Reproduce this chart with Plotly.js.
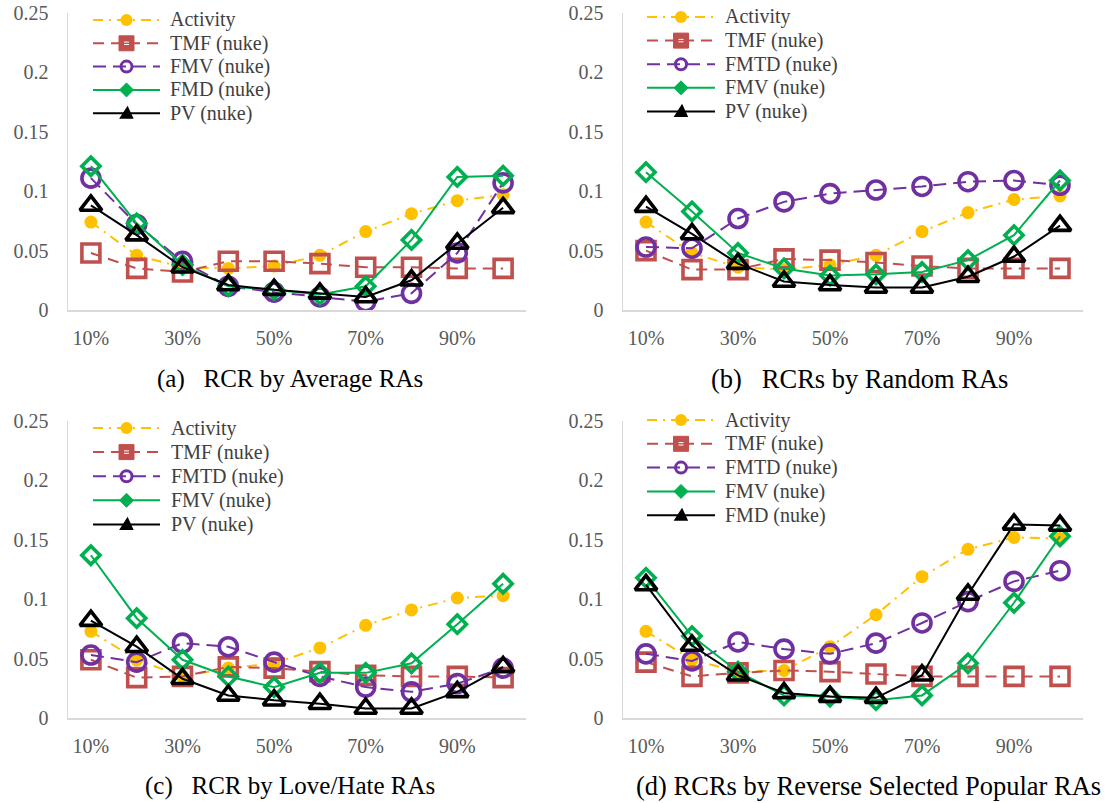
<!DOCTYPE html>
<html>
<head>
<meta charset="utf-8">
<script src="https://cdn.plot.ly/plotly-3.0.1.min.js"></script>
<style>
html,body{margin:0;padding:0;background:#fff;}
#chart{width:1110px;height:803px;}
</style>
</head>
<body>
<div id="chart"></div>
<script>
// ---- data ----
const categories = ['10%','20%','30%','40%','50%','60%','70%','80%','90%','100%'];
const tickCategories = ['10%','30%','50%','70%','90%'];
const yTicks = [0, 0.05, 0.1, 0.15, 0.2, 0.25];
const yTickText = ['0', '0.05', '0.1', '0.15', '0.2', '0.25'];

// (a) RCR by Average RAs
const a_activity = [0.074, 0.046, 0.036, 0.035, 0.037, 0.046, 0.066, 0.081, 0.092, 0.097];
const a_tmf      = [0.048, 0.035, 0.032, 0.041, 0.041, 0.039, 0.036, 0.036, 0.035, 0.035];
const a_fmv      = [0.111, 0.072, 0.041, 0.020, 0.015, 0.011, 0.007, 0.014, 0.048, 0.107];
const a_fmd      = [0.121, 0.073, 0.038, 0.020, 0.017, 0.013, 0.020, 0.059, 0.112, 0.113];
const a_pv       = [0.088, 0.063, 0.036, 0.021, 0.017, 0.014, 0.011, 0.025, 0.056, 0.086];

// (b) RCRs by Random RAs
const b_activity = [0.074, 0.048, 0.036, 0.034, 0.038, 0.046, 0.066, 0.082, 0.093, 0.096];
const b_tmf      = [0.050, 0.034, 0.034, 0.043, 0.042, 0.040, 0.037, 0.035, 0.035, 0.035];
const b_fmtd     = [0.053, 0.052, 0.077, 0.091, 0.098, 0.101, 0.104, 0.108, 0.109, 0.105];
const b_fmv      = [0.116, 0.083, 0.048, 0.035, 0.029, 0.030, 0.032, 0.042, 0.063, 0.109];
const b_pv       = [0.087, 0.064, 0.039, 0.024, 0.021, 0.019, 0.019, 0.028, 0.045, 0.071];

// (c) RCR by Love/Hate RAs
const c_activity = [0.073, 0.049, 0.035, 0.042, 0.046, 0.059, 0.078, 0.091, 0.101, 0.103];
const c_tmf      = [0.049, 0.034, 0.035, 0.043, 0.042, 0.039, 0.036, 0.035, 0.035, 0.034];
const c_fmtd     = [0.053, 0.047, 0.063, 0.060, 0.047, 0.035, 0.026, 0.022, 0.029, 0.042];
const c_fmv      = [0.137, 0.084, 0.049, 0.035, 0.026, 0.038, 0.038, 0.046, 0.079, 0.113];
const c_pv       = [0.082, 0.060, 0.033, 0.019, 0.015, 0.012, 0.008, 0.008, 0.022, 0.043];

// (d) RCRs by Reverse Selected Popular RAs
const d_activity = [0.073, 0.049, 0.039, 0.040, 0.060, 0.087, 0.119, 0.142, 0.152, 0.151];
const d_tmf      = [0.047, 0.035, 0.038, 0.040, 0.039, 0.037, 0.035, 0.035, 0.035, 0.035];
const d_fmtd     = [0.054, 0.048, 0.064, 0.058, 0.054, 0.063, 0.080, 0.098, 0.115, 0.124];
const d_fmv      = [0.118, 0.069, 0.039, 0.019, 0.018, 0.015, 0.019, 0.046, 0.097, 0.153];
const d_fmd      = [0.112, 0.061, 0.036, 0.021, 0.018, 0.017, 0.036, 0.104, 0.163, 0.162];

const legendA = ['Activity', 'TMF (nuke)', 'FMV (nuke)', 'FMD (nuke)', 'PV (nuke)'];
const legendB = ['Activity', 'TMF (nuke)', 'FMTD (nuke)', 'FMV (nuke)', 'PV (nuke)'];
const legendC = ['Activity', 'TMF (nuke)', 'FMTD (nuke)', 'FMV (nuke)', 'PV (nuke)'];
const legendD = ['Activity', 'TMF (nuke)', 'FMTD (nuke)', 'FMV (nuke)', 'FMD (nuke)'];

const panelTitles = [
  '(a)\u00a0\u00a0\u00a0RCR by Average RAs',
  '(b)\u00a0\u00a0\u00a0RCRs by Random RAs',
  '(c)\u00a0\u00a0\u00a0RCR by Love/Hate RAs',
  '(d) RCRs by Reverse Selected Popular RAs'
];

// ---- styles ----
const FONT = "'Liberation Serif', 'Times New Roman', Times, serif";
const styleOrder = ['activity', 'tmf', 'purple', 'green', 'black'];
const styles = {
  activity: {color:'#FFC000', dash:'10px,6px,2px,6px', symbol:'circle', size:13, open:false},
  tmf:      {color:'#C0504D', dash:'11px,7px', symbol:'square-open', size:18, open:true},
  purple:   {color:'#7030A0', dash:'13px,7px', symbol:'circle-open', size:18, open:true},
  green:    {color:'#00B050', dash:'solid', symbol:'diamond-open', size:14, open:true},
  black:    {color:'#000000', dash:'solid', symbol:'triangle-up-open', size:19, open:true}
};

function trace(name, y, st, ax){
  const s = styles[st];
  return {
    type:'scatter', mode:'lines+markers', name:name,
    x: categories, y: y,
    xaxis: 'x' + ax, yaxis: 'y' + ax,
    showlegend: false,
    line: {color: s.color, width: 2, dash: s.dash},
    marker: s.open
      ? {symbol: s.symbol, size: s.size, color: s.color, line: {color: s.color, width: 3.6}}
      : {symbol: s.symbol, size: s.size, color: s.color, line: {width: 0}},
    hoverinfo: 'skip'
  };
}

const panelSeries = [
  {ax:'',  names: legendA, values: [a_activity, a_tmf, a_fmv, a_fmd, a_pv]},
  {ax:'2', names: legendB, values: [b_activity, b_tmf, b_fmtd, b_fmv, b_pv]},
  {ax:'3', names: legendC, values: [c_activity, c_tmf, c_fmtd, c_fmv, c_pv]},
  {ax:'4', names: legendD, values: [d_activity, d_tmf, d_fmtd, d_fmv, d_fmd]}
];

const data = [];
panelSeries.forEach(ps => {
  ps.values.forEach((vals, k) => data.push(trace(ps.names[k], vals, styleOrder[k], ps.ax)));
});

// ---- layout ----
const W = 1110, H = 803;
const fx = p => p / W;
const fy = p => 1 - p / H;

const panels = [
  {x0:68,  x1:526,  yTop:13,  yBot:310},
  {x0:623, x1:1083, yTop:13,  yBot:310},
  {x0:68,  x1:526,  yTop:421, yBot:718},
  {x0:623, x1:1083, yTop:421, yBot:718}
];

const layout = {
  width: W, height: H,
  margin: {l:0, r:0, t:0, b:0},
  paper_bgcolor:'#fff', plot_bgcolor:'rgba(0,0,0,0)',
  font: {family: FONT, size: 20, color:'#595959'},
  showlegend: false,
  annotations: [],
  shapes: [],
  hovermode: false
};

panels.forEach((p, i) => {
  const sfx = i === 0 ? '' : String(i + 1);
  layout['xaxis' + sfx] = {
    domain: [fx(p.x0), fx(p.x1)],
    anchor: 'y' + sfx,
    type: 'category',
    range: [-0.5, 9.5],
    tickmode: 'array', tickvals: tickCategories, ticktext: tickCategories,
    showgrid: false, zeroline: false,
    showline: true, linecolor: '#D9D9D9', linewidth: 1.5,
    ticks: '', ticklabelstandoff: 9,
    tickfont: {family: FONT, size: 20, color: '#595959'},
    fixedrange: true
  };
  layout['yaxis' + sfx] = {
    domain: [fy(p.yBot), fy(p.yTop)],
    anchor: 'x' + sfx,
    range: [0, 0.25],
    tickmode: 'array', tickvals: yTicks, ticktext: yTickText,
    showgrid: false, zeroline: false,
    showline: true, linecolor: '#D9D9D9', linewidth: 1.5,
    ticks: '', ticklabelstandoff: 14,
    tickfont: {family: FONT, size: 20, color: '#595959'},
    fixedrange: true
  };
});

// ---- hand-placed legends (pixel geometry) ----
const legendGeom = [
  {lx0: 93,  lx1: 160, tx: 168, y0: 20,  dy: 23.3},
  {lx0: 647, lx1: 715, tx: 723, y0: 17,  dy: 23.6},
  {lx0: 93,  lx1: 160, tx: 169, y0: 428, dy: 24.1},
  {lx0: 647, lx1: 715, tx: 723, y0: 420, dy: 23.8}
];

function addLegendMarker(st, cx, cy){
  const s = styles[st];
  const c = s.color;
  if (st === 'activity') {
    const r = 6;
    layout.shapes.push({type:'circle', xref:'paper', yref:'paper',
      x0: fx(cx - r), x1: fx(cx + r), y0: fy(cy + r), y1: fy(cy - r),
      fillcolor: c, line: {width: 0}});
  } else if (st === 'tmf') {
    const r = 7.5;
    layout.shapes.push({type:'rect', xref:'paper', yref:'paper',
      x0: fx(cx - r), x1: fx(cx + r), y0: fy(cy + r), y1: fy(cy - r),
      fillcolor: c, line: {color: c, width: 1}});
    layout.shapes.push({type:'line', xref:'paper', yref:'paper',
      x0: fx(cx - 2.5), x1: fx(cx + 2.5), y0: fy(cy - 1.2), y1: fy(cy - 1.2),
      line: {color: '#ffffff', width: 1}});
    layout.shapes.push({type:'line', xref:'paper', yref:'paper',
      x0: fx(cx - 2.5), x1: fx(cx + 2.5), y0: fy(cy + 1.2), y1: fy(cy + 1.2),
      line: {color: '#ffffff', width: 1}});
  } else if (st === 'purple') {
    const r = 5.5;
    layout.shapes.push({type:'circle', xref:'paper', yref:'paper',
      x0: fx(cx - r), x1: fx(cx + r), y0: fy(cy + r), y1: fy(cy - r),
      fillcolor: 'rgba(0,0,0,0)', line: {color: c, width: 3}});
  } else if (st === 'green') {
    const r = 7;
    layout.shapes.push({type:'path', xref:'paper', yref:'paper',
      path: 'M' + fx(cx) + ',' + fy(cy - r) + ' L' + fx(cx + r) + ',' + fy(cy) +
            ' L' + fx(cx) + ',' + fy(cy + r) + ' L' + fx(cx - r) + ',' + fy(cy) + ' Z',
      fillcolor: c, line: {color: c, width: 1}});
  } else {
    const r = 6;
    layout.shapes.push({type:'path', xref:'paper', yref:'paper',
      path: 'M' + fx(cx - r) + ',' + fy(cy + r * 0.8) + ' L' + fx(cx + r) + ',' + fy(cy + r * 0.8) +
            ' L' + fx(cx + 1) + ',' + fy(cy - r) + ' Z',
      fillcolor: c, line: {color: c, width: 1.5}});
  }
}

panelSeries.forEach((ps, i) => {
  const g = legendGeom[i];
  ps.names.forEach((name, k) => {
    const st = styleOrder[k];
    const s = styles[st];
    const cy = g.y0 + k * g.dy;
    layout.shapes.push({type:'line', xref:'paper', yref:'paper',
      x0: fx(g.lx0), x1: fx(g.lx1), y0: fy(cy), y1: fy(cy),
      line: {color: s.color, width: 2, dash: s.dash}});
    addLegendMarker(st, (g.lx0 + g.lx1) / 2, cy);
    layout.annotations.push({
      xref:'paper', yref:'paper', x: fx(g.tx), y: fy(cy),
      xanchor:'left', yanchor:'middle', showarrow:false, text: name,
      font: {family: FONT, size: 20, color: '#404040'}
    });
  });
});

const captionPos = [
  {x: 290, y: 379, size: 25},
  {x: 859, y: 379, size: 26.5},
  {x: 290, y: 786, size: 25},
  {x: 868, y: 786, size: 26.5}
];
captionPos.forEach((cp, i) => {
  layout.annotations.push({
    xref: 'paper', yref: 'paper', x: fx(cp.x), y: fy(cp.y),
    xanchor: 'center', yanchor: 'middle', showarrow: false,
    text: panelTitles[i],
    font: {family: FONT, size: cp.size, color: '#000000'}
  });
});

Plotly.newPlot('chart', data, layout, {staticPlot: true, displayModeBar: false});
</script>
</body>
</html>
